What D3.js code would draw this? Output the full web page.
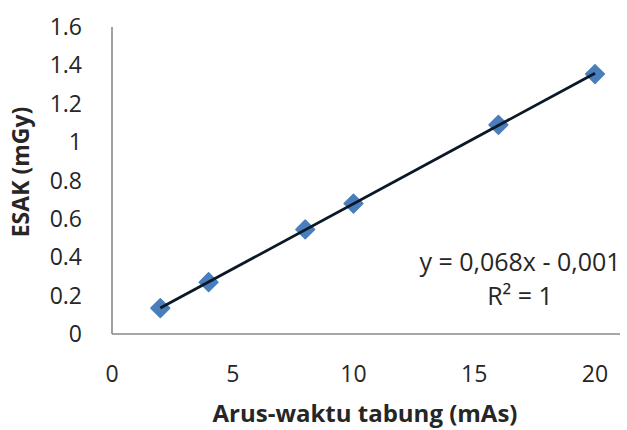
<!DOCTYPE html>
<html>
<head>
<meta charset="utf-8">
<script src="https://cdn.jsdelivr.net/npm/d3@7"></script>
<style>
  body { margin: 0; background: #fff; }
  svg text { font-family: "Open Sans", sans-serif; fill: #262626; }
</style>
</head>
<body>
<div id="chart"></div>
<script>
// measured data (mAs vs ESAK)
const mAs = [2, 4, 8, 10, 16, 20]
const esak = [0.135, 0.27, 0.545, 0.68, 1.09, 1.355]
const xTicks = [0, 5, 10, 15, 20]
const yTicks = [0, 0.2, 0.4, 0.6, 0.8, 1, 1.2, 1.4, 1.6]
const trend = {slope: 0.068, intercept: -0.001}
const eqLines = ['y = 0,068x - 0,001', 'R² = 1']

let width = 627
let height = 430

const svg = d3.select('#chart').append('svg')
          .attr('width', width)
          .attr('height', height)

let xScale = d3.scaleLinear().domain([0, 20]).range([112, 595])
let yScale = d3.scaleLinear().domain([0, 1.6]).range([334, 27])

// axis lines
svg.append('line')
  .attr('x1', xScale(0)).attr('x2', 620)
  .attr('y1', yScale(0)).attr('y2', yScale(0))
  .attr('stroke', '#8a8a8a').attr('stroke-width', 1.6)
svg.append('line')
  .attr('x1', xScale(0)).attr('x2', xScale(0))
  .attr('y1', yScale(0)).attr('y2', yScale(1.6))
  .attr('stroke', '#8a8a8a').attr('stroke-width', 1.6)

// tick labels
svg.selectAll('.ytick').data(yTicks).enter().append('text')
  .attr('class', 'ytick')
  .attr('x', 82)
  .attr('y', d => yScale(d))
  .attr('dy', '0.35em')
  .attr('text-anchor', 'end')
  .style('font-size', '23px')
  .text(d => d)

svg.selectAll('.xtick').data(xTicks).enter().append('text')
  .attr('class', 'xtick')
  .attr('x', d => xScale(d))
  .attr('y', 374)
  .attr('dy', '0.35em')
  .attr('text-anchor', 'middle')
  .style('font-size', '23px')
  .text(d => d)

// axis titles
svg.append('text')
  .attr('transform', 'translate(21,172) rotate(-90)')
  .attr('text-anchor', 'middle')
  .attr('dy', '0.35em')
  .style('font-size', '23px')
  .style('font-weight', 'bold')
  .text('ESAK (mGy)')

svg.append('text')
  .attr('x', 365)
  .attr('y', 422)
  .attr('text-anchor', 'middle')
  .style('font-size', '24px')
  .style('font-weight', 'bold')
  .text('Arus-waktu tabung (mAs)')

// markers
const data = mAs.map((d, i) => ({x: d, y: esak[i]}))
svg.selectAll('.pt').data(data).enter().append('path')
  .attr('class', 'pt')
  .attr('d', d3.symbol().type(d3.symbolSquare).size(175))
  .attr('transform', d => `translate(${xScale(d.x)},${yScale(d.y)}) rotate(45)`)
  .attr('fill', '#4a7ebb')
  .attr('stroke', '#4a7ebb')
  .attr('stroke-width', 1.5)
  .attr('stroke-linejoin', 'round')

// linear trendline
let xExtent = d3.extent(mAs)
svg.append('line')
  .attr('x1', xScale(xExtent[0])).attr('y1', yScale(trend.slope * xExtent[0] + trend.intercept))
  .attr('x2', xScale(xExtent[1])).attr('y2', yScale(trend.slope * xExtent[1] + trend.intercept))
  .attr('stroke', '#0b1828')
  .attr('stroke-width', 2.8)

// equation label
svg.selectAll('.eq').data(eqLines).enter().append('text')
  .attr('class', 'eq')
  .attr('x', 520)
  .attr('y', (d, i) => 262 + i * 34)
  .attr('dy', '0.35em')
  .attr('text-anchor', 'middle')
  .style('font-size', '25px')
  .text(d => d)
</script>
</body>
</html>
